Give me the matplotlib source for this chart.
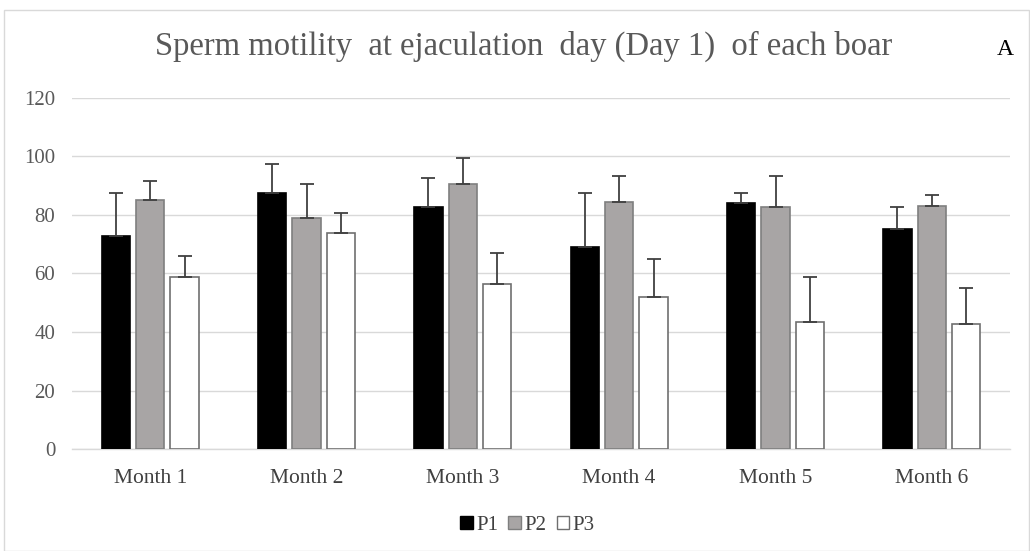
import matplotlib
matplotlib.use("Agg")
import matplotlib.pyplot as plt
import numpy as np
from matplotlib.patches import Rectangle, Patch

months = ["Month 1", "Month 2", "Month 3", "Month 4", "Month 5", "Month 6"]
series = ["P1", "P2", "P3"]
p1 = [72.8, 87.6, 82.7, 69.1, 84.0, 75.2]
p2 = [85.1, 79.0, 90.7, 84.4, 82.6, 83.2]
p3 = [58.9, 73.8, 56.4, 52.1, 43.5, 42.8]
p1_err = [14.7, 9.9, 9.8, 18.4, 3.5, 7.4]
p2_err = [6.3, 11.7, 8.6, 8.8, 10.6, 3.7]
p3_err = [7.0, 6.9, 10.6, 13.0, 15.4, 12.4]
yticks = [0, 20, 40, 60, 80, 100, 120]

plt.rcParams['font.family'] = ['Liberation Serif', 'DejaVu Serif']

fig = plt.figure(figsize=(10.30, 5.51), dpi=100)
ax = fig.add_axes([0.0699, 0.1846, 0.9107, 0.6381])

x = np.arange(len(months))
w = 0.182
off = 0.22
fills = ["#000000", "#a8a5a5", "#ffffff"]
edges = ["#000000", "#7f7f7f", "#6f6f6f"]
vals = [p1, p2, p3]
errs = [p1_err, p2_err, p3_err]
for i in range(3):
    pos = x + (i - 1) * off
    ax.bar(pos, vals[i], width=w, color=fills[i], edgecolor=edges[i],
           linewidth=1.2, zorder=3, label=series[i])
    ax.errorbar(pos, vals[i], yerr=[np.zeros(len(months)), errs[i]],
                fmt="none", ecolor="#404040", elinewidth=1.3, capsize=5,
                capthick=1.3, zorder=4)

ax.set_xlim(-0.5, len(months) - 0.5)
ax.set_ylim(0, 120)
ax.set_yticks(yticks)
ax.set_yticklabels([str(t) for t in yticks], fontsize=15, color="#595959")
ax.set_xticks(x)
ax.set_xticklabels(months, fontsize=15.5, color="#404040")
ax.tick_params(axis="both", length=0)
ax.tick_params(axis="y", pad=12)
ax.tick_params(axis="x", pad=14)
ax.grid(axis="y", color="#d9d9d9", linewidth=1.0, zorder=0)
for s in ["top", "right", "left"]:
    ax.spines[s].set_visible(False)
ax.spines["bottom"].set_color("#d9d9d9")
ax.spines["bottom"].set_linewidth(1.0)

fig.text(0.508, 0.9, "Sperm motility  at ejaculation  day (Day 1)  of each boar",
         ha="center", va="baseline", fontsize=23.5, color="#595959")
fig.text(0.976, 0.9, "A", ha="center", va="baseline", fontsize=17, color="#000000")

handles = [Patch(facecolor=fills[i], edgecolor=edges[i], linewidth=1.0) for i in range(3)]
fig.legend(handles, series, loc="center", bbox_to_anchor=(0.512, 0.046), ncol=3,
           frameon=False, fontsize=15, handlelength=0.6, handleheight=0.6,
           handletextpad=0.15, columnspacing=0.5, labelcolor="#404040")

fig.patches.append(Rectangle((0.004, 0.0), 0.995, 0.981, transform=fig.transFigure,
                             fill=False, edgecolor="#d9d9d9", linewidth=1.0))

fig.savefig("out.png", dpi=100)
